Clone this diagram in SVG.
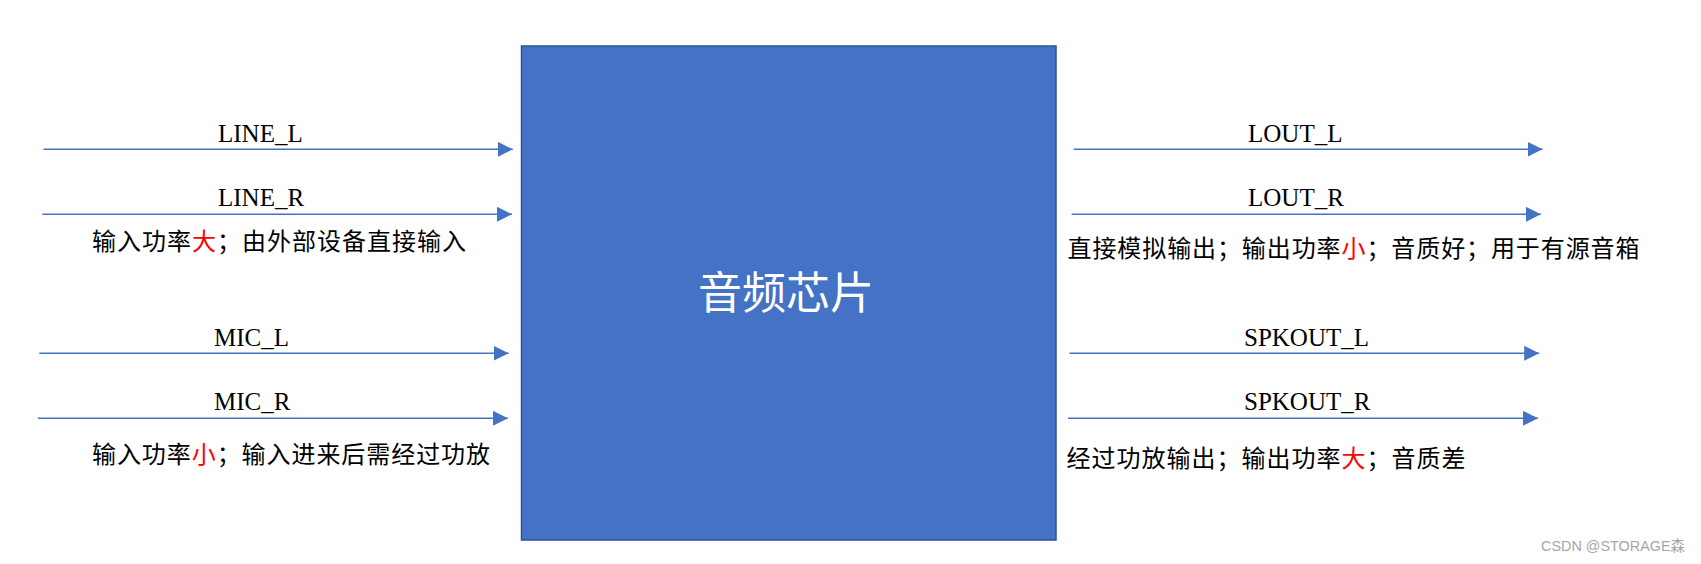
<svg xmlns="http://www.w3.org/2000/svg" width="1701" height="564" viewBox="0 0 1701 564">
<style>
.bg{fill:#ffffff}
.chip{fill:#4472C4;stroke:#2F528F;stroke-width:1.5}
.title{font-family:"Noto Sans CJK SC","Noto Sans",sans-serif;font-size:44px;fill:#ffffff}
.lbl{font-family:"Liberation Serif","Times New Roman",serif;font-size:25px;fill:#000000}
.note{font-family:"Noto Sans CJK SC","Liberation Serif",sans-serif;font-size:24px;fill:#000000}
.red{fill:#FF0000}
.wire{stroke:#4472C4;stroke-width:1.5;fill:none;marker-end:url(#arr)}
.wm{font-family:"Liberation Sans","Noto Sans CJK SC",sans-serif;font-size:15px;fill:#A6A6A6}
</style>
<defs>
<marker id="arr" markerUnits="userSpaceOnUse" markerWidth="16" markerHeight="16" refX="15" refY="7.5" orient="auto">
<path d="M0,0 L15,7.5 L0,15 Z" fill="#4472C4"/>
</marker>
</defs>
<rect class="bg" x="0" y="0" width="1701" height="564"/>
<g id="chip">
<rect class="chip" x="521.5" y="46" width="534.5" height="494"/>
<text class="title" x="786" y="309" text-anchor="middle">音频芯片</text>
</g>
<g id="connectors">
<path class="wire" d="M43.5,149.3 H512.8"/>
<path class="wire" d="M42.4,214.3 H512"/>
<path class="wire" d="M39.3,353.3 H508.6"/>
<path class="wire" d="M37.9,418.3 H507.9"/>
<path class="wire" d="M1073.6,149.3 H1542.5"/>
<path class="wire" d="M1071.6,214.3 H1540.9"/>
<path class="wire" d="M1069.5,353.3 H1539.2"/>
<path class="wire" d="M1068,418.3 H1538"/>
</g>
<g id="labels">
<text class="lbl" x="218" y="142.3">LINE_L</text>
<text class="lbl" x="218" y="206">LINE_R</text>
<text class="lbl" x="214" y="346">MIC_L</text>
<text class="lbl" x="214" y="410">MIC_R</text>
<text class="lbl" x="1248" y="142.3">LOUT_L</text>
<text class="lbl" x="1248" y="206">LOUT_R</text>
<text class="lbl" x="1244" y="346">SPKOUT_L</text>
<text class="lbl" x="1244" y="410">SPKOUT_R</text>
</g>
<g id="notes">
<text class="note" x="92" y="250" textLength="374" lengthAdjust="spacing">输入功率<tspan class="red">大</tspan>；由外部设备直接输入</text>
<text class="note" x="92" y="463" textLength="398" lengthAdjust="spacing">输入功率<tspan class="red">小</tspan>；输入进来后需经过功放</text>
<text class="note" x="1067.5" y="257" textLength="572" lengthAdjust="spacing">直接模拟输出；输出功率<tspan class="red">小</tspan>；音质好；用于有源音箱</text>
<text class="note" x="1066.5" y="467" textLength="399" lengthAdjust="spacing">经过功放输出；输出功率<tspan class="red">大</tspan>；音质差</text>
</g>
<text class="wm" x="1541" y="551" textLength="144" lengthAdjust="spacingAndGlyphs">CSDN @STORAGE森</text>
</svg>
